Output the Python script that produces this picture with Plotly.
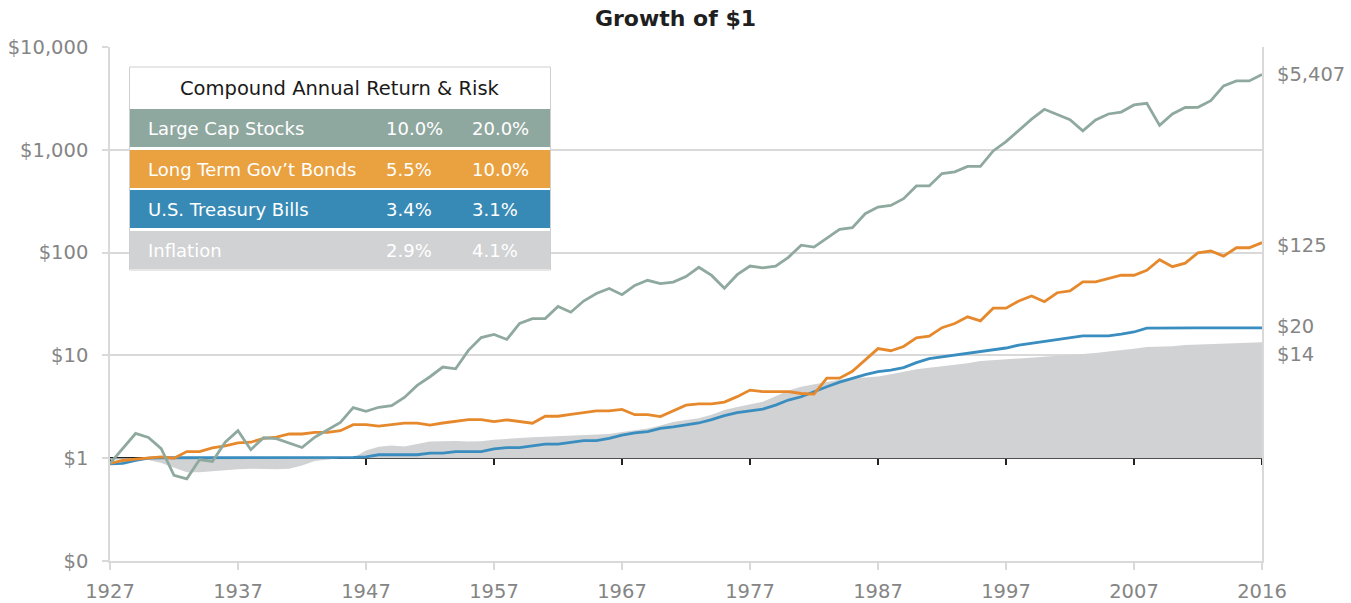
import math
import plotly.graph_objects as go

# ---------------- data ----------------
years = list(range(1926, 2017))
x_tick_labels = ["1927", "1937", "1947", "1957", "1967", "1977", "1987", "1997", "2007", "2016"]
y_tick_values = [0.1, 1, 10, 100, 1000, 10000]
y_tick_labels = ["$0", "$1", "$10", "$100", "$1,000", "$10,000"]

large_cap_stocks = [
    0.89, 1.25, 1.74, 1.59, 1.24, 0.68, 0.63, 0.97, 0.93, 1.43,
    1.85, 1.21, 1.58, 1.55, 1.40, 1.27, 1.60, 1.90, 2.23, 3.10,
    2.86, 3.13, 3.25, 3.90, 5.10, 6.20, 7.70, 7.40, 11.2, 14.9,
    16.0, 14.3, 20.5, 22.8, 22.8, 29.9, 26.3, 33.8, 40.0, 44.8,
    39.0, 48.0, 53.8, 49.9, 51.6, 58.5, 72.0, 60.0, 45.0, 61.0,
    74.0, 71.0, 74.0, 90.0, 118, 113, 139, 168, 175, 239,
    277, 288, 335, 445, 445, 588, 610, 690, 690, 975,
    1200, 1560, 1990, 2477, 2200, 1960, 1530, 1950, 2230, 2330,
    2730, 2830, 1730, 2230, 2580, 2590, 3000, 4180, 4680, 4680,
    5407,
]
long_term_bonds = [
    0.89, 0.95, 0.98, 1.00, 1.03, 1.00, 1.16, 1.16, 1.26, 1.32,
    1.41, 1.43, 1.56, 1.60, 1.72, 1.72, 1.78, 1.78, 1.85, 2.12,
    2.12, 2.05, 2.12, 2.19, 2.19, 2.10, 2.20, 2.28, 2.37, 2.37,
    2.27, 2.36, 2.27, 2.19, 2.56, 2.56, 2.67, 2.78, 2.88, 2.88,
    2.98, 2.65, 2.65, 2.54, 2.87, 3.28, 3.37, 3.37, 3.52, 3.97,
    4.60, 4.45, 4.45, 4.45, 4.26, 4.20, 6.00, 6.00, 7.00, 9.10,
    11.65, 11.1, 12.2, 14.8, 15.4, 18.6, 20.4, 23.7, 21.7, 28.8,
    28.8, 33.8, 37.9, 33.3, 40.7, 42.3, 51.8, 51.8, 55.6, 60.2,
    60.2, 67.4, 85.3, 72.9, 79.0, 99.6, 103.6, 92.4, 111.5, 111.5,
    125,
]
treasury_bills = [
    0.88, 0.89, 0.95, 1.00, 1.01, 1.01, 1.01, 1.01, 1.01, 1.01,
    1.01, 1.01, 1.01, 1.01, 1.02, 1.02, 1.02, 1.02, 1.02, 1.02,
    1.03, 1.08, 1.08, 1.08, 1.08, 1.12, 1.12, 1.16, 1.16, 1.16,
    1.23, 1.27, 1.27, 1.32, 1.37, 1.37, 1.42, 1.48, 1.48, 1.56,
    1.68, 1.76, 1.81, 1.95, 2.02, 2.10, 2.20, 2.37, 2.59, 2.78,
    2.89, 3.00, 3.28, 3.68, 3.96, 4.45, 4.96, 5.50, 6.00, 6.50,
    6.96, 7.20, 7.60, 8.50, 9.30, 9.70, 10.1, 10.5, 10.9, 11.3,
    11.8, 12.6, 13.1, 13.7, 14.4, 14.9, 15.5, 15.5, 15.5, 16.1,
    16.9, 18.4, 18.5, 18.5, 18.5, 18.5, 18.5, 18.5, 18.5, 18.5,
    18.5,
]
inflation = [
    0.97, 0.97, 0.96, 0.96, 0.90, 0.81, 0.73, 0.73, 0.75, 0.76,
    0.78, 0.79, 0.78, 0.78, 0.79, 0.85, 0.94, 0.97, 1.00, 1.01,
    1.19, 1.29, 1.33, 1.30, 1.38, 1.45, 1.46, 1.47, 1.45, 1.46,
    1.51, 1.55, 1.57, 1.60, 1.62, 1.63, 1.65, 1.67, 1.69, 1.72,
    1.80, 1.86, 1.95, 2.08, 2.25, 2.35, 2.45, 2.65, 2.95, 3.15,
    3.32, 3.55, 4.00, 4.55, 4.95, 5.25, 5.50, 5.80, 6.05, 6.10,
    6.25, 6.55, 6.95, 7.35, 7.60, 7.85, 8.10, 8.40, 8.80, 8.95,
    9.20, 9.30, 9.45, 9.60, 9.90, 10.1, 10.3, 10.55, 10.9, 11.2,
    11.6, 12.1, 12.1, 12.3, 12.6, 12.7, 12.9, 13.1, 13.2, 13.3,
    13.4,
]
baseline = [1.0] * len(years)

end_labels = ["$5,407", "$125", "$20", "$14"]

table_title = "Compound Annual Return & Risk"
table_names = ["Large Cap Stocks", "Long Term Gov\u2019t Bonds", "U.S. Treasury Bills", "Inflation"]
table_returns = ["10.0%", "5.5%", "3.4%", "2.9%"]
table_risks = ["20.0%", "10.0%", "3.1%", "4.1%"]

# ---------------- style ----------------
C_STOCK = "#8fa99f"
C_BOND = "#e6892c"
C_BILL = "#3a8dbf"
C_INFL = "#d1d2d4"
ROW_COLORS = ["#8fa89f", "#eaa240", "#388ab6", "#d1d2d4"]
GRID = "#d9d9d9"
TXT = "#858585"
FONT = "DejaVu Sans"

W, H = 1351, 603
ML, MR, MT, MB = 110, 89, 47, 42
PW, PH = W - ML - MR, H - MT - MB


def px_x(px):
    return (px - ML) / PW


def px_y(py):
    return (H - MB - py) / PH


fig = go.Figure()
fig.add_trace(go.Scatter(x=years, y=baseline, mode="lines", line=dict(width=0, color=C_INFL),
                         hoverinfo="skip", showlegend=False))
fig.add_trace(go.Scatter(x=years, y=inflation, mode="lines", line=dict(width=0, color=C_INFL),
                         fill="tonexty", fillcolor=C_INFL, name="Inflation", showlegend=False))
fig.add_trace(go.Scatter(x=years, y=treasury_bills, mode="lines", line=dict(width=2.8, color=C_BILL),
                         name="U.S. Treasury Bills", showlegend=False))
fig.add_trace(go.Scatter(x=years, y=long_term_bonds, mode="lines", line=dict(width=2.8, color=C_BOND),
                         name="Long Term Gov't Bonds", showlegend=False))
fig.add_trace(go.Scatter(x=years, y=large_cap_stocks, mode="lines", line=dict(width=2.8, color=C_STOCK),
                         name="Large Cap Stocks", showlegend=False))
fig.add_trace(go.Scatter(x=years, y=baseline, xaxis="x2", mode="lines", line=dict(width=0),
                         hoverinfo="skip", showlegend=False))

tick_positions = years[::10]

fig.update_layout(
    width=W, height=H,
    margin=dict(l=ML, r=MR, t=MT, b=MB, pad=0, autoexpand=False),
    paper_bgcolor="white", plot_bgcolor="white",
    font=dict(family=FONT, color=TXT, size=19),
    title=dict(text="<b>Growth of $1</b>", x=0.5, xanchor="center", y=1 - 18 / H, yanchor="middle",
               font=dict(family=FONT, size=22, color="#1f1f1f")),
    xaxis=dict(range=[years[0], years[-1]], tickmode="array", tickvals=tick_positions,
               ticktext=x_tick_labels, showgrid=False, zeroline=False, automargin=False,
               showline=True, linecolor=GRID, linewidth=1.5, mirror=False,
               ticks="outside", ticklen=7, tickcolor=GRID, tickwidth=1.5,
               ticklabelstandoff=5, tickfont=dict(family=FONT, size=19.5, color=TXT)),
    xaxis2=dict(range=[years[0], years[-1]], overlaying="x", anchor="free", position=0.2,
                tickmode="array", tickvals=tick_positions, showticklabels=False, automargin=False,
                showgrid=False, zeroline=False, showline=True, linecolor="#222222", linewidth=1.5,
                ticks="outside", ticklen=6, tickcolor="#222222", tickwidth=1.5, layer="below traces"),
    yaxis=dict(type="log", range=[-1, 4], tickmode="array", tickvals=y_tick_values,
               ticktext=y_tick_labels, showgrid=True, gridcolor=GRID, gridwidth=1.5, automargin=False,
               zeroline=False, showline=True, linecolor=GRID, linewidth=1.5, mirror=True,
               ticks="outside", ticklen=6, tickcolor=GRID, tickwidth=1.5,
               ticklabelstandoff=10, tickfont=dict(family=FONT, size=19.5, color=TXT)),
    showlegend=False,
)

# end-of-line labels
end_values = [large_cap_stocks[-1], long_term_bonds[-1], treasury_bills[-1], inflation[-1]]
end_shifts = [0, -3, 1, -12]
for lab, val, sh in zip(end_labels, end_values, end_shifts):
    fig.add_annotation(x=1, xref="paper", y=math.log10(val), yref="y",
                       text=lab, showarrow=False, xanchor="left", yanchor="middle",
                       xshift=13, yshift=sh, font=dict(family=FONT, size=19.5, color=TXT))

# table inset
tx0, tx1 = 130, 550
fig.add_shape(type="rect", xref="paper", yref="paper", x0=px_x(tx0 - 0.5), x1=px_x(tx1 + 0.5),
              y0=px_y(270), y1=px_y(67), line=dict(color="#cfcfcf", width=1), fillcolor="white",
              layer="above")
fig.add_annotation(x=px_x(340), y=px_y(88), xref="paper", yref="paper", text=table_title,
                   showarrow=False, xanchor="center", yanchor="middle",
                   font=dict(family=FONT, size=19.5, color="#1a1a1a"))
row_tops = [109, 150, 190, 231]
row_h = 38
for i, (nm, r, rk) in enumerate(zip(table_names, table_returns, table_risks)):
    top = row_tops[i]
    fig.add_shape(type="rect", xref="paper", yref="paper", x0=px_x(tx0), x1=px_x(tx1),
                  y0=px_y(top + row_h), y1=px_y(top), line=dict(width=0),
                  fillcolor=ROW_COLORS[i], layer="above")
    cy = px_y(top + row_h / 2)
    for txt, xp in ((nm, 146), (r, 384), (rk, 470)):
        fig.add_annotation(x=px_x(xp), y=cy, xref="paper", yref="paper", text=txt,
                           showarrow=False, xanchor="left", yanchor="middle",
                           font=dict(family=FONT, size=18, color="white"))

fig.write_html("out.html", post_script="document.body.style.margin='0';",
               config={"displayModeBar": False})
